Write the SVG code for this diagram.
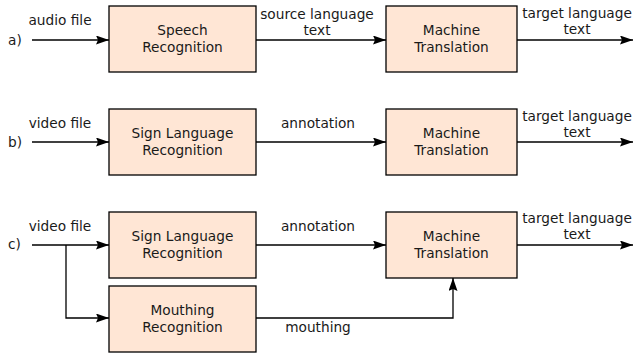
<svg xmlns="http://www.w3.org/2000/svg" width="634" height="355" viewBox="0 0 634 355">
<style>
text{font-family:"DejaVu Sans",sans-serif;font-size:13.7px;fill:#1a1a1a}
.m{text-anchor:middle}
.box{fill:#ffe6d5;stroke:#000;stroke-width:1.3}
.c{fill:none;stroke:#000;stroke-width:1.3}
</style>
<defs>
<marker id="ah" markerWidth="13" markerHeight="9" refX="13" refY="4.5" orient="auto" markerUnits="userSpaceOnUse">
<path d="M0,0 L13,4.5 L0,9 L2,4.5 z" fill="#000"/>
</marker>
</defs>
<rect width="634" height="355" fill="#fff"/>
<g id="labels">
<text x="8" y="45">a)</text>
<text x="8" y="147">b)</text>
<text x="8" y="249">c)</text>
</g>
<g id="connectors">
<path class="c" d="M32,40 H109" marker-end="url(#ah)"/>
<path class="c" d="M256,40 H386" marker-end="url(#ah)"/>
<path class="c" d="M517,40 H633" marker-end="url(#ah)"/>
<path class="c" d="M32,142 H109" marker-end="url(#ah)"/>
<path class="c" d="M256,142 H386" marker-end="url(#ah)"/>
<path class="c" d="M517,142 H633" marker-end="url(#ah)"/>
<path class="c" d="M32,245 H109" marker-end="url(#ah)"/>
<path class="c" d="M66,245 V318 H109" marker-end="url(#ah)"/>
<path class="c" d="M256,245 H386" marker-end="url(#ah)"/>
<path class="c" d="M256,318 H453 V278" marker-end="url(#ah)"/>
<path class="c" d="M517,245 H633" marker-end="url(#ah)"/>
<text x="60" y="25" class="m">audio file</text>
<text x="317" y="19" class="m">source language</text>
<text x="317" y="35" class="m">text</text>
<text x="577" y="18" class="m">target language</text>
<text x="577" y="34" class="m">text</text>
<text x="60" y="128" class="m">video file</text>
<text x="318" y="128" class="m">annotation</text>
<text x="577" y="121" class="m">target language</text>
<text x="577" y="137" class="m">text</text>
<text x="60" y="231" class="m">video file</text>
<text x="318" y="231" class="m">annotation</text>
<text x="577" y="223" class="m">target language</text>
<text x="577" y="239" class="m">text</text>
<text x="318" y="332" class="m">mouthing</text>
</g>
<g id="speech">
<rect class="box" x="109" y="6" width="147" height="66"/>
<text x="182.5" y="35" class="m">Speech</text>
<text x="182.5" y="52" class="m">Recognition</text>
</g>
<g id="mt-a">
<rect class="box" x="386" y="6" width="131" height="66"/>
<text x="451.5" y="35" class="m">Machine</text>
<text x="451.5" y="52" class="m">Translation</text>
</g>
<g id="slr-b">
<rect class="box" x="109" y="109" width="147" height="66"/>
<text x="182.5" y="138" class="m">Sign Language</text>
<text x="182.5" y="155" class="m">Recognition</text>
</g>
<g id="mt-b">
<rect class="box" x="386" y="109" width="131" height="66"/>
<text x="451.5" y="138" class="m">Machine</text>
<text x="451.5" y="155" class="m">Translation</text>
</g>
<g id="slr-c">
<rect class="box" x="109" y="212" width="147" height="66"/>
<text x="182.5" y="241" class="m">Sign Language</text>
<text x="182.5" y="258" class="m">Recognition</text>
</g>
<g id="mouthing">
<rect class="box" x="109" y="286" width="147" height="66"/>
<text x="182.5" y="315" class="m">Mouthing</text>
<text x="182.5" y="332" class="m">Recognition</text>
</g>
<g id="mt-c">
<rect class="box" x="386" y="212" width="131" height="66"/>
<text x="451.5" y="241" class="m">Machine</text>
<text x="451.5" y="258" class="m">Translation</text>
</g>
</svg>
